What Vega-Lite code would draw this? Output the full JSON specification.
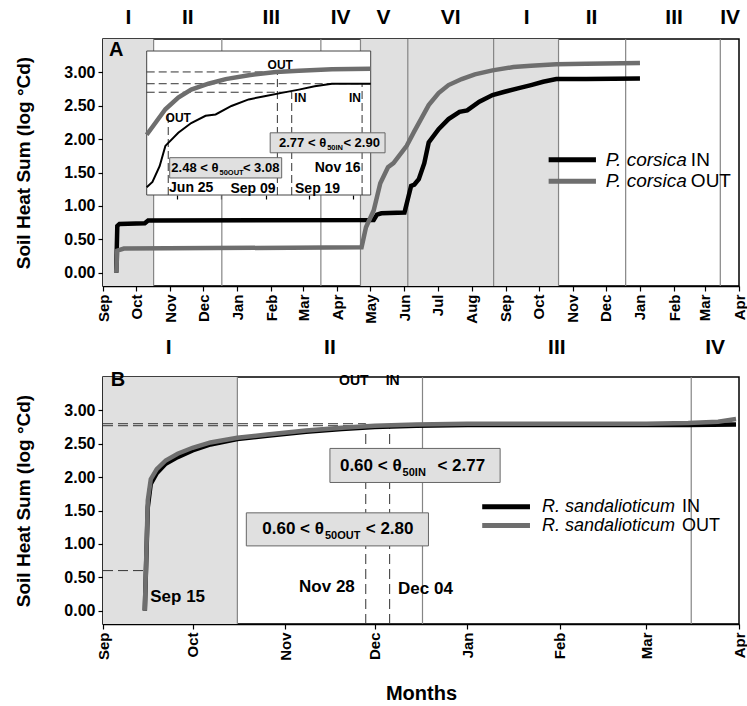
{
  "$schema": "https://vega.github.io/schema/vega-lite/v6.json",
  "background": "white",
  "padding": {"left": 14, "top": 6, "right": 0, "bottom": 0},
  "spacing": 11,
  "config": {
    "font": "Liberation Sans",
    "view": {"stroke": "black", "strokeWidth": 1.5},
    "axis": {"grid": false, "domainColor": "black", "domainWidth": 1.5, "tickColor": "black", "tickWidth": 1.2, "tickSize": 5, "labelColor": "black", "labelFont": "Liberation Sans", "labelFontWeight": "bold", "labelFontSize": 16, "titleFont": "Liberation Sans", "titleFontWeight": "bold", "titleFontSize": 19, "titleColor": "black", "zindex": 1}
  },
  "datasets": {
    "corsica": [
      {"series": "IN", "date": "2011-09-13", "value": 0.0},
      {"series": "IN", "date": "2011-09-14", "value": 0.70},
      {"series": "IN", "date": "2011-09-16", "value": 0.73},
      {"series": "IN", "date": "2011-10-09", "value": 0.74},
      {"series": "IN", "date": "2011-10-12", "value": 0.78},
      {"series": "IN", "date": "2012-05-04", "value": 0.79},
      {"series": "IN", "date": "2012-05-07", "value": 0.87},
      {"series": "IN", "date": "2012-05-11", "value": 0.89},
      {"series": "IN", "date": "2012-06-01", "value": 0.90},
      {"series": "IN", "date": "2012-06-04", "value": 1.10},
      {"series": "IN", "date": "2012-06-07", "value": 1.30},
      {"series": "IN", "date": "2012-06-10", "value": 1.32},
      {"series": "IN", "date": "2012-06-14", "value": 1.40},
      {"series": "IN", "date": "2012-06-19", "value": 1.64},
      {"series": "IN", "date": "2012-06-23", "value": 1.95},
      {"series": "IN", "date": "2012-07-02", "value": 2.15},
      {"series": "IN", "date": "2012-07-11", "value": 2.30},
      {"series": "IN", "date": "2012-07-21", "value": 2.41},
      {"series": "IN", "date": "2012-07-28", "value": 2.43},
      {"series": "IN", "date": "2012-08-08", "value": 2.56},
      {"series": "IN", "date": "2012-08-20", "value": 2.66},
      {"series": "IN", "date": "2012-08-31", "value": 2.71},
      {"series": "IN", "date": "2012-09-12", "value": 2.76},
      {"series": "IN", "date": "2012-09-24", "value": 2.81},
      {"series": "IN", "date": "2012-10-05", "value": 2.86},
      {"series": "IN", "date": "2012-10-17", "value": 2.90},
      {"series": "IN", "date": "2012-11-13", "value": 2.90},
      {"series": "IN", "date": "2013-01-01", "value": 2.91},
      {"series": "OUT", "date": "2011-09-13", "value": 0.0},
      {"series": "OUT", "date": "2011-09-14", "value": 0.33},
      {"series": "OUT", "date": "2011-09-20", "value": 0.36},
      {"series": "OUT", "date": "2012-04-23", "value": 0.38},
      {"series": "OUT", "date": "2012-04-27", "value": 0.68},
      {"series": "OUT", "date": "2012-05-04", "value": 0.93},
      {"series": "OUT", "date": "2012-05-10", "value": 1.34},
      {"series": "OUT", "date": "2012-05-17", "value": 1.58},
      {"series": "OUT", "date": "2012-05-22", "value": 1.64},
      {"series": "OUT", "date": "2012-06-03", "value": 1.90},
      {"series": "OUT", "date": "2012-06-10", "value": 2.12},
      {"series": "OUT", "date": "2012-06-16", "value": 2.30},
      {"series": "OUT", "date": "2012-06-23", "value": 2.51},
      {"series": "OUT", "date": "2012-07-02", "value": 2.69},
      {"series": "OUT", "date": "2012-07-11", "value": 2.81},
      {"series": "OUT", "date": "2012-07-23", "value": 2.90},
      {"series": "OUT", "date": "2012-08-04", "value": 2.97},
      {"series": "OUT", "date": "2012-08-20", "value": 3.03},
      {"series": "OUT", "date": "2012-09-08", "value": 3.08},
      {"series": "OUT", "date": "2012-09-24", "value": 3.10},
      {"series": "OUT", "date": "2012-10-17", "value": 3.12},
      {"series": "OUT", "date": "2012-11-13", "value": 3.13},
      {"series": "OUT", "date": "2013-01-01", "value": 3.14}
    ],
    "sandal": [
      {"series": "IN", "date": "2011-09-15", "value": 0.0},
      {"series": "IN", "date": "2011-09-16", "value": 1.55},
      {"series": "IN", "date": "2011-09-17", "value": 1.90},
      {"series": "IN", "date": "2011-09-19", "value": 2.06},
      {"series": "IN", "date": "2011-09-22", "value": 2.20},
      {"series": "IN", "date": "2011-09-26", "value": 2.30},
      {"series": "IN", "date": "2011-10-01", "value": 2.40},
      {"series": "IN", "date": "2011-10-07", "value": 2.49},
      {"series": "IN", "date": "2011-10-16", "value": 2.57},
      {"series": "IN", "date": "2011-10-26", "value": 2.62},
      {"series": "IN", "date": "2011-11-08", "value": 2.68},
      {"series": "IN", "date": "2011-11-20", "value": 2.72},
      {"series": "IN", "date": "2011-12-01", "value": 2.75},
      {"series": "IN", "date": "2011-12-15", "value": 2.77},
      {"series": "IN", "date": "2012-01-01", "value": 2.78},
      {"series": "IN", "date": "2012-02-01", "value": 2.78},
      {"series": "IN", "date": "2012-03-01", "value": 2.78},
      {"series": "IN", "date": "2012-03-15", "value": 2.78},
      {"series": "IN", "date": "2012-03-31", "value": 2.79},
      {"series": "OUT", "date": "2011-09-15", "value": 0.0},
      {"series": "OUT", "date": "2011-09-16", "value": 1.65},
      {"series": "OUT", "date": "2011-09-17", "value": 1.97},
      {"series": "OUT", "date": "2011-09-19", "value": 2.12},
      {"series": "OUT", "date": "2011-09-22", "value": 2.25},
      {"series": "OUT", "date": "2011-09-26", "value": 2.35},
      {"series": "OUT", "date": "2011-10-01", "value": 2.44},
      {"series": "OUT", "date": "2011-10-07", "value": 2.52},
      {"series": "OUT", "date": "2011-10-16", "value": 2.59},
      {"series": "OUT", "date": "2011-10-26", "value": 2.64},
      {"series": "OUT", "date": "2011-11-08", "value": 2.70},
      {"series": "OUT", "date": "2011-11-20", "value": 2.74},
      {"series": "OUT", "date": "2011-12-01", "value": 2.77},
      {"series": "OUT", "date": "2011-12-15", "value": 2.79},
      {"series": "OUT", "date": "2012-01-01", "value": 2.80},
      {"series": "OUT", "date": "2012-02-01", "value": 2.80},
      {"series": "OUT", "date": "2012-03-01", "value": 2.80},
      {"series": "OUT", "date": "2012-03-15", "value": 2.81},
      {"series": "OUT", "date": "2012-03-25", "value": 2.83},
      {"series": "OUT", "date": "2012-03-31", "value": 2.87}
    ],
    "shadeA": [{"start": "2011-09-01", "end": "2011-10-17"}, {"start": "2012-04-22", "end": "2012-10-19"}],
    "phaseA": [{"date": "2011-10-17"}, {"date": "2011-12-18"}, {"date": "2012-03-17"}, {"date": "2012-04-22"}, {"date": "2012-06-04"}, {"date": "2012-08-21"}, {"date": "2012-10-19"}, {"date": "2012-12-19"}, {"date": "2013-03-15"}],
    "numeralsA": [{"label": "I", "date": "2011-09-24"}, {"label": "II", "date": "2011-11-17"}, {"label": "III", "date": "2012-02-01"}, {"label": "IV", "date": "2012-04-04"}, {"label": "V", "date": "2012-05-13"}, {"label": "VI", "date": "2012-07-13"}, {"label": "I", "date": "2012-09-20"}, {"label": "II", "date": "2012-11-18"}, {"label": "III", "date": "2013-02-01"}, {"label": "IV", "date": "2013-03-24"}],
    "letterA": [{"label": "A", "date": "2011-09-13", "value": 3.33}],
    "legendA": [{"series": "IN", "label": "P. corsica", "suffix": "IN", "start": "2012-10-10", "end": "2012-11-22", "textDate": "2012-12-01", "value": 1.69}, {"series": "OUT", "label": "P. corsica", "suffix": "OUT", "start": "2012-10-10", "end": "2012-11-22", "textDate": "2012-12-01", "value": 1.37}],
    "insetH": [{"value": 3.08, "start": "2012-06-10", "end": "2012-09-09"}, {"value": 2.90, "start": "2012-06-10", "end": "2012-11-13"}, {"value": 2.77, "start": "2012-06-10", "end": "2012-09-19"}],
    "insetV": [{"date": "2012-06-25", "low": 1.2, "high": 2.48}, {"date": "2012-09-09", "low": 1.2, "high": 3.08}, {"date": "2012-09-19", "low": 1.2, "high": 2.77}, {"date": "2012-11-07", "low": 1.2, "high": 2.90}],
    "insetLabels": [{"label": "OUT", "date": "2012-09-11", "value": 3.19}, {"label": "OUT", "date": "2012-07-02", "value": 2.38}, {"label": "IN", "date": "2012-09-25", "value": 2.68}, {"label": "IN", "date": "2012-11-02", "value": 2.68}],
    "insetDates": [{"label": "Jun 25", "date": "2012-07-11", "value": 1.30}, {"label": "Sep 09", "date": "2012-08-23", "value": 1.29}, {"label": "Sep 19", "date": "2012-10-07", "value": 1.29}, {"label": "Nov 16", "date": "2012-10-21", "value": 1.62}],
    "insetBoxes": [{"start": "2012-06-26", "end": "2012-09-12", "low": 1.46, "high": 1.77}, {"start": "2012-09-04", "end": "2012-11-23", "low": 1.845, "high": 2.15}],
    "insetBoxText": [{"pre": "2.48 < θ", "sub": "50OUT", "post": "< 3.08", "a": "2012-07-30", "b": "2012-08-16", "value": 1.62}, {"pre": "2.77 < θ", "sub": "50IN", "post": "< 2.90", "a": "2012-10-13", "b": "2012-10-25", "value": 2.0}],
    "shadeB": [{"start": "2011-09-01", "end": "2011-10-16"}],
    "phaseB": [{"date": "2011-10-16"}, {"date": "2011-12-17"}, {"date": "2012-03-16"}],
    "numeralsB": [{"label": "I", "date": "2011-09-23"}, {"label": "II", "date": "2011-11-16"}, {"label": "III", "date": "2012-01-31"}, {"label": "IV", "date": "2012-03-24"}],
    "letterB": [{"label": "B", "date": "2011-09-06", "value": 3.46}],
    "dashBH": [{"value": 2.80, "start": "2011-09-01", "end": "2011-11-28"}, {"value": 2.77, "start": "2011-09-01", "end": "2011-12-06"}, {"value": 0.60, "start": "2011-09-01", "end": "2011-09-15"}],
    "dashBV": [{"date": "2011-11-28", "low": -0.2, "high": 2.80}, {"date": "2011-12-06", "low": -0.2, "high": 2.77}],
    "labelsB": [{"label": "OUT", "date": "2011-11-24", "value": 3.445}, {"label": "IN", "date": "2011-12-07", "value": 3.445}],
    "datesB": [{"label": "Sep 15", "date": "2011-09-26", "value": 0.20}, {"label": "Nov 28", "date": "2011-11-15", "value": 0.35}, {"label": "Dec 04", "date": "2011-12-18", "value": 0.33}],
    "boxesB": [{"start": "2011-11-16", "end": "2012-01-12", "low": 1.92, "high": 2.43}, {"start": "2011-10-19", "end": "2011-12-19", "low": 0.97, "high": 1.465}],
    "boxTextB": [{"pre": "0.60 < θ", "sub": "50IN", "post": "< 2.77", "a": "2011-12-10", "b": "2011-12-22", "value": 2.17}, {"pre": "0.60 < θ", "sub": "50OUT", "post": "< 2.80", "a": "2011-11-14", "b": "2011-11-28", "value": 1.22}],
    "legendB": [{"series": "IN", "label": "R. sandalioticum", "suffix": "IN", "start": "2012-01-06", "end": "2012-01-22", "textDate": "2012-01-26", "value": 1.555}, {"series": "OUT", "label": "R. sandalioticum", "suffix": "OUT", "start": "2012-01-06", "end": "2012-01-22", "textDate": "2012-01-26", "value": 1.275}]
  },
  "vconcat": [
    {
      "width": 636,
      "height": 247,
      "layer": [
        {
          "layer": [
            {"data": {"name": "shadeA"}, "mark": {"type": "rect", "color": "#e0e0e0"}, "encoding": {"x": {"field": "start", "type": "temporal"}, "x2": {"field": "end"}}},
            {"data": {"name": "phaseA"}, "mark": {"type": "rule", "color": "#858585", "strokeWidth": 1.2}, "encoding": {"x": {"field": "date", "type": "temporal"}}},
            {"data": {"name": "corsica"}, "mark": {"type": "line", "strokeWidth": 4.5},
              "encoding": {
                "x": {"field": "date", "type": "temporal", "scale": {"type": "utc", "domain": [{"year": 2011, "month": 9, "date": 1, "utc": true}, {"year": 2013, "month": 4, "date": 1, "utc": true}], "nice": false},
                  "axis": {"title": null, "labelExpr": "utcFormat(datum.value, '%b')", "tickCount": {"interval": "month", "step": 1}, "labelAngle": -90, "labelFontSize": 15, "labelPadding": 3, "labelOverlap": false}},
                "y": {"field": "value", "type": "quantitative", "scale": {"domain": [-0.2, 3.5], "nice": false, "zero": false},
                  "axis": {"title": "Soil Heat Sum (log °Cd)", "values": [0, 0.5, 1, 1.5, 2, 2.5, 3], "format": ".2f", "labelPadding": 3, "titlePadding": 30}},
                "color": {"field": "series", "type": "nominal", "scale": {"domain": ["IN", "OUT"], "range": ["#000000", "#6e6e6e"]}, "legend": null}
              }},
            {"data": {"name": "numeralsA"}, "mark": {"type": "text", "fontSize": 21, "font": "Liberation Sans Narrow, Liberation Sans", "fontWeight": "bold", "color": "black", "baseline": "middle"}, "encoding": {"x": {"field": "date", "type": "temporal"}, "y": {"datum": 3.81}, "text": {"field": "label"}}},
            {"data": {"name": "letterA"}, "mark": {"type": "text", "fontSize": 20, "fontWeight": "bold", "color": "black", "baseline": "middle"}, "encoding": {"x": {"field": "date", "type": "temporal"}, "y": {"field": "value", "type": "quantitative"}, "text": {"field": "label"}}},
            {"data": {"name": "legendA"}, "mark": {"type": "rule", "strokeWidth": 5}, "encoding": {"x": {"field": "start", "type": "temporal"}, "x2": {"field": "end"}, "y": {"field": "value", "type": "quantitative"}, "color": {"field": "series", "type": "nominal"}}},
            {"data": {"name": "legendA"}, "mark": {"type": "text", "fontSize": 19, "fontStyle": "italic", "color": "black", "align": "left", "baseline": "middle"}, "encoding": {"x": {"field": "textDate", "type": "temporal"}, "y": {"field": "value", "type": "quantitative"}, "text": {"field": "label"}}},
            {"data": {"name": "legendA"}, "mark": {"type": "text", "fontSize": 19, "color": "black", "align": "left", "baseline": "middle", "dx": 85}, "encoding": {"x": {"field": "textDate", "type": "temporal"}, "y": {"field": "value", "type": "quantitative"}, "text": {"field": "suffix"}}}
          ]
        },
        {
          "layer": [
            {"data": {"values": [{}]}, "mark": {"type": "rect", "fill": "white", "stroke": "#444444", "strokeWidth": 1},
              "encoding": {"x": {"datum": {"year": 2012, "month": 6, "date": 10, "utc": true}, "type": "temporal"}, "x2": {"datum": {"year": 2012, "month": 11, "date": 13, "utc": true}}, "y": {"datum": 1.2, "type": "quantitative"}, "y2": {"datum": 3.4}}},
            {"data": {"name": "insetH"}, "mark": {"type": "rule", "color": "#333333", "strokeWidth": 1, "strokeDash": [8, 4]}, "encoding": {"x": {"field": "start", "type": "temporal"}, "x2": {"field": "end"}, "y": {"field": "value", "type": "quantitative"}}},
            {"data": {"name": "insetV"}, "mark": {"type": "rule", "color": "#333333", "strokeWidth": 1, "strokeDash": [8, 4]}, "encoding": {"x": {"field": "date", "type": "temporal"}, "y": {"field": "low", "type": "quantitative"}, "y2": {"field": "high"}}},
            {"data": {"name": "corsica"}, "transform": [{"filter": "datum.series == 'OUT' && time(datum.date) >= utc(2012,5,10) && time(datum.date) <= utc(2012,10,13)"}], "mark": {"type": "line", "strokeWidth": 4.5},
              "encoding": {
                "x": {"field": "date", "type": "temporal", "scale": {"type": "utc", "domain": [{"year": 2012, "month": 6, "date": 10, "utc": true}, {"year": 2012, "month": 11, "date": 13, "utc": true}], "range": [43.7, 267.7], "nice": false},
                  "axis": {"orient": "bottom", "offset": -91, "title": null, "labels": false, "domain": false, "tickSize": 4, "tickCount": {"interval": "month", "step": 1}}},
                "y": {"field": "value", "type": "quantitative", "scale": {"domain": [1.2, 3.4], "range": [156, 12], "nice": false, "zero": false},
                  "axis": {"orient": "left", "offset": -43.7, "title": null, "domain": false, "values": [1.5, 2, 2.5, 3], "format": ".2f", "labelFontSize": 13, "labelPadding": 2, "tickSize": 5}},
                "color": {"field": "series", "type": "nominal"}
              }},
            {"data": {"name": "corsica"}, "transform": [{"filter": "datum.series == 'IN' && time(datum.date) >= utc(2012,5,10) && time(datum.date) <= utc(2012,10,13)"}], "mark": {"type": "line", "strokeWidth": 2},
              "encoding": {"x": {"field": "date", "type": "temporal"}, "y": {"field": "value", "type": "quantitative"}, "color": {"field": "series", "type": "nominal"}}},
            {"data": {"name": "insetLabels"}, "mark": {"type": "text", "fontSize": 12, "font": "Liberation Sans Narrow, Liberation Sans", "fontWeight": "bold", "color": "black", "baseline": "middle"}, "encoding": {"x": {"field": "date", "type": "temporal"}, "y": {"field": "value", "type": "quantitative"}, "text": {"field": "label"}}},
            {"data": {"name": "insetBoxes"}, "mark": {"type": "rect", "fill": "#e0e0e0", "stroke": "#666666", "strokeWidth": 1}, "encoding": {"x": {"field": "start", "type": "temporal"}, "x2": {"field": "end"}, "y": {"field": "low", "type": "quantitative"}, "y2": {"field": "high"}}},
            {"data": {"name": "insetBoxText"}, "mark": {"type": "text", "fontSize": 13, "fontWeight": "bold", "color": "black", "align": "right", "baseline": "middle"}, "encoding": {"x": {"field": "a", "type": "temporal"}, "y": {"field": "value", "type": "quantitative"}, "text": {"field": "pre"}}},
            {"data": {"name": "insetBoxText"}, "mark": {"type": "text", "fontSize": 7.5, "fontWeight": "bold", "color": "black", "align": "left", "baseline": "middle", "dy": 5, "dx": 1}, "encoding": {"x": {"field": "a", "type": "temporal"}, "y": {"field": "value", "type": "quantitative"}, "text": {"field": "sub"}}},
            {"data": {"name": "insetBoxText"}, "mark": {"type": "text", "fontSize": 13, "fontWeight": "bold", "color": "black", "align": "left", "baseline": "middle"}, "encoding": {"x": {"field": "b", "type": "temporal"}, "y": {"field": "value", "type": "quantitative"}, "text": {"field": "post"}}},
            {"data": {"name": "insetDates"}, "mark": {"type": "text", "fontSize": 14, "fontWeight": "bold", "color": "black", "baseline": "middle"}, "encoding": {"x": {"field": "date", "type": "temporal"}, "y": {"field": "value", "type": "quantitative"}, "text": {"field": "label"}}}
          ]
        }
      ],
      "resolve": {"scale": {"x": "independent", "y": "independent"}, "axis": {"x": "independent", "y": "independent"}}
    },
    {
      "width": 636,
      "height": 247,
      "layer": [
        {"data": {"name": "shadeB"}, "mark": {"type": "rect", "color": "#e0e0e0"}, "encoding": {"x": {"field": "start", "type": "temporal"}, "x2": {"field": "end"}}},
        {"data": {"name": "phaseB"}, "mark": {"type": "rule", "color": "#858585", "strokeWidth": 1.2}, "encoding": {"x": {"field": "date", "type": "temporal"}}},
        {"data": {"name": "dashBH"}, "mark": {"type": "rule", "color": "#333333", "strokeWidth": 1, "strokeDash": [10, 5]}, "encoding": {"x": {"field": "start", "type": "temporal"}, "x2": {"field": "end"}, "y": {"field": "value", "type": "quantitative"}}},
        {"data": {"name": "dashBV"}, "mark": {"type": "rule", "color": "#333333", "strokeWidth": 1, "strokeDash": [10, 5]}, "encoding": {"x": {"field": "date", "type": "temporal"}, "y": {"field": "low", "type": "quantitative"}, "y2": {"field": "high"}}},
        {"data": {"name": "sandal"}, "mark": {"type": "line", "strokeWidth": 4.5},
          "encoding": {
            "x": {"field": "date", "type": "temporal", "scale": {"type": "utc", "domain": [{"year": 2011, "month": 9, "date": 1, "utc": true}, {"year": 2012, "month": 4, "date": 1, "utc": true}], "nice": false},
              "axis": {"title": "Months", "titleFontSize": 20, "titlePadding": 23, "labelExpr": "utcFormat(datum.value, '%b')", "tickCount": {"interval": "month", "step": 1}, "labelAngle": -90, "labelFontSize": 15, "labelPadding": 3, "labelOverlap": false}},
            "y": {"field": "value", "type": "quantitative", "scale": {"domain": [-0.2, 3.5], "nice": false, "zero": false},
              "axis": {"title": "Soil Heat Sum (log °Cd)", "values": [0, 0.5, 1, 1.5, 2, 2.5, 3], "format": ".2f", "labelPadding": 3, "titlePadding": 30}},
            "color": {"field": "series", "type": "nominal", "scale": {"domain": ["IN", "OUT"], "range": ["#000000", "#6e6e6e"]}, "legend": null}
          }},
        {"data": {"name": "numeralsB"}, "mark": {"type": "text", "fontSize": 21, "font": "Liberation Sans Narrow, Liberation Sans", "fontWeight": "bold", "color": "black", "baseline": "middle"}, "encoding": {"x": {"field": "date", "type": "temporal"}, "y": {"datum": 3.94}, "text": {"field": "label"}}},
        {"data": {"name": "letterB"}, "mark": {"type": "text", "fontSize": 20, "fontWeight": "bold", "color": "black", "baseline": "middle"}, "encoding": {"x": {"field": "date", "type": "temporal"}, "y": {"field": "value", "type": "quantitative"}, "text": {"field": "label"}}},
        {"data": {"name": "labelsB"}, "mark": {"type": "text", "fontSize": 14, "font": "Liberation Sans Narrow, Liberation Sans", "fontWeight": "bold", "color": "black", "baseline": "middle"}, "encoding": {"x": {"field": "date", "type": "temporal"}, "y": {"field": "value", "type": "quantitative"}, "text": {"field": "label"}}},
        {"data": {"name": "datesB"}, "mark": {"type": "text", "fontSize": 17, "fontWeight": "bold", "color": "black", "baseline": "middle"}, "encoding": {"x": {"field": "date", "type": "temporal"}, "y": {"field": "value", "type": "quantitative"}, "text": {"field": "label"}}},
        {"data": {"name": "boxesB"}, "mark": {"type": "rect", "fill": "#e0e0e0", "stroke": "#666666", "strokeWidth": 1}, "encoding": {"x": {"field": "start", "type": "temporal"}, "x2": {"field": "end"}, "y": {"field": "low", "type": "quantitative"}, "y2": {"field": "high"}}},
        {"data": {"name": "boxTextB"}, "mark": {"type": "text", "fontSize": 17, "fontWeight": "bold", "color": "black", "align": "right", "baseline": "middle"}, "encoding": {"x": {"field": "a", "type": "temporal"}, "y": {"field": "value", "type": "quantitative"}, "text": {"field": "pre"}}},
        {"data": {"name": "boxTextB"}, "mark": {"type": "text", "fontSize": 11, "fontWeight": "bold", "color": "black", "align": "left", "baseline": "middle", "dy": 7, "dx": 1}, "encoding": {"x": {"field": "a", "type": "temporal"}, "y": {"field": "value", "type": "quantitative"}, "text": {"field": "sub"}}},
        {"data": {"name": "boxTextB"}, "mark": {"type": "text", "fontSize": 17, "fontWeight": "bold", "color": "black", "align": "left", "baseline": "middle"}, "encoding": {"x": {"field": "b", "type": "temporal"}, "y": {"field": "value", "type": "quantitative"}, "text": {"field": "post"}}},
        {"data": {"name": "legendB"}, "mark": {"type": "rule", "strokeWidth": 5}, "encoding": {"x": {"field": "start", "type": "temporal"}, "x2": {"field": "end"}, "y": {"field": "value", "type": "quantitative"}, "color": {"field": "series", "type": "nominal"}}},
        {"data": {"name": "legendB"}, "mark": {"type": "text", "fontSize": 18, "fontStyle": "italic", "color": "black", "align": "left", "baseline": "middle"}, "encoding": {"x": {"field": "textDate", "type": "temporal"}, "y": {"field": "value", "type": "quantitative"}, "text": {"field": "label"}}},
        {"data": {"name": "legendB"}, "mark": {"type": "text", "fontSize": 18, "color": "black", "align": "left", "baseline": "middle", "dx": 140}, "encoding": {"x": {"field": "textDate", "type": "temporal"}, "y": {"field": "value", "type": "quantitative"}, "text": {"field": "suffix"}}}
      ]
    }
  ]
}
